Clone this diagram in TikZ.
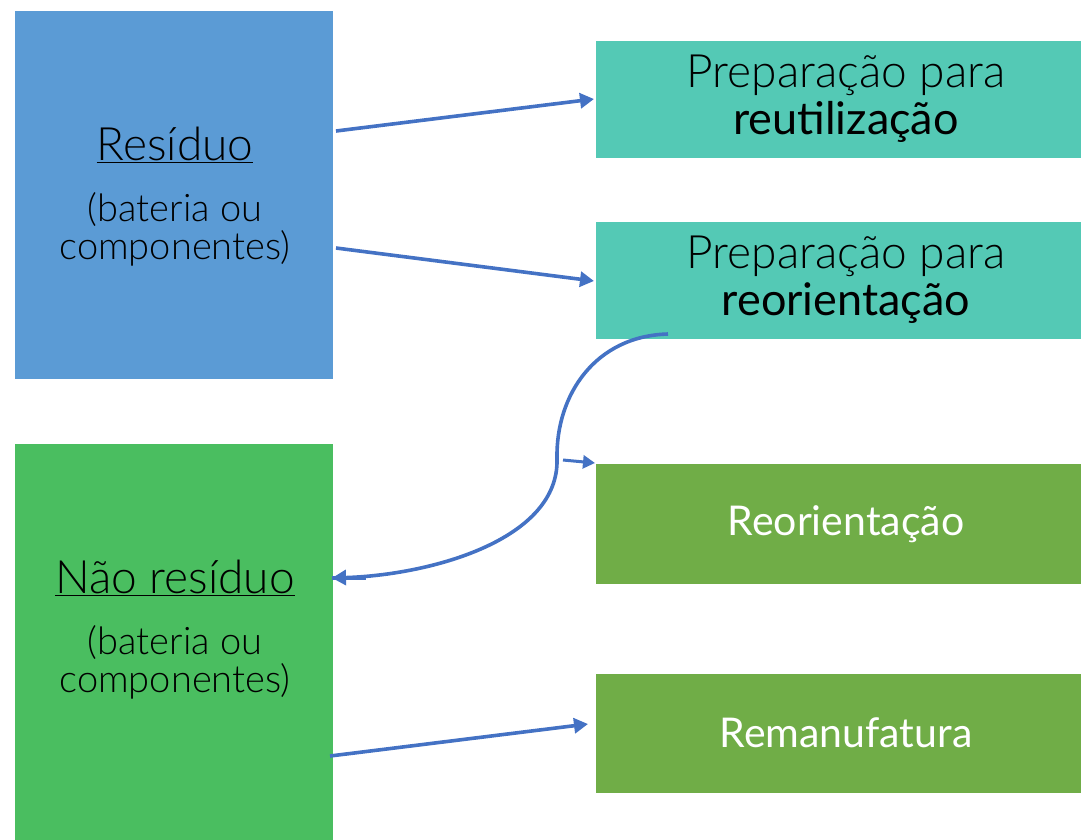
\documentclass[tikz,border=0pt]{standalone}
\usepackage{fontspec}
\setmainfont{Lato Light}
\newfontfamily\regfont{Lato}
\usetikzlibrary{arrows.meta}
\definecolor{cblue}{HTML}{5B9BD5}
\definecolor{cgreen}{HTML}{4ABE60}
\definecolor{cteal}{HTML}{54C9B5}
\definecolor{colive}{HTML}{70AD47}
\definecolor{carrow}{HTML}{4472C4}
\tikzset{
  conn/.style={draw=carrow, line width=3.6pt, -{Triangle[length=14pt,width=15pt]}},
  title/.style={font=\fontsize{46}{52}\selectfont, inner sep=0pt},
  sub/.style={font=\fontsize{38}{38}\selectfont, inner sep=0pt, align=center},
  rtext/.style={font=\fontsize{46}{47}\selectfont, inner sep=0pt, align=center},
  wtext/.style={font=\fontsize{41}{47}\selectfont\regfont, inner sep=0pt, text=white},
}
\begin{document}
\begin{tikzpicture}[x=1pt,y=-1pt]
\useasboundingbox (0,0) rectangle (1081,839);
% boxes
\node[fill=cblue, minimum width=318pt, minimum height=368pt, inner sep=0pt] (res) at (174,195) {};
\node[fill=cgreen, minimum width=318pt, minimum height=400pt, inner sep=0pt] (nres) at (174,644) {};
\node[fill=cteal, minimum width=500pt, minimum height=117pt, inner sep=0pt] (prep1) at (846,99.5) {};
\node[fill=cteal, minimum width=500pt, minimum height=117pt, inner sep=0pt] (prep2) at (846,280.5) {};
\node[fill=colive, minimum width=500pt, minimum height=120pt, inner sep=0pt] (reo) at (846,524) {};
\node[fill=colive, minimum width=500pt, minimum height=119pt, inner sep=0pt] (rem) at (846,733.5) {};
% texts
\node[title] (resT) at (175,145) {\underline{Resíduo}};
\node[sub] (resS) at (175,229) {(bateria ou\\componentes)};
\node[title] (nresT) at (175,578) {\underline{Não resíduo}};
\node[sub] (nresS) at (175,662) {(bateria ou\\componentes)};
\node[rtext] (p1T) at (846,99) {Preparação para\\{\regfont\fontsize{45}{47}\selectfont reutilização}};
\node[rtext] (p2T) at (846,280) {Preparação para\\{\regfont\fontsize{45}{47}\selectfont reorientação}};
\node[wtext] (reoT) at (846,524) {Reorientação};
\node[wtext] (remT) at (846,733) {Remanufatura};
% connector end points
\coordinate (a1s) at (336,131);
\coordinate (a1e) at (594,99);
\coordinate (a2s) at (336,248);
\coordinate (a2e) at (594,281);
\coordinate (a3s) at (330,756);
\coordinate (a3e) at (588,724);
\coordinate (cs) at (668,334);
\coordinate (cm) at (557,458);
\coordinate (ce) at (332,578);
\coordinate (ss) at (563,460);
\coordinate (se) at (595,463);
\draw[conn] (a1s) -- (a1e);
\draw[conn] (a2s) -- (a2e);
\draw[conn] (a3s) -- (a3e);
\draw[conn] (cs) .. controls (595,336) and (556,395) .. (cm) .. controls (560,540) and (430,575) .. (ce);
\draw[carrow, line width=3.6pt] (ce) -- ++(34,0);
\draw[conn, -{Triangle[length=12pt,width=13pt]}, line width=3pt] (ss) -- (se);
\end{tikzpicture}
\end{document}
